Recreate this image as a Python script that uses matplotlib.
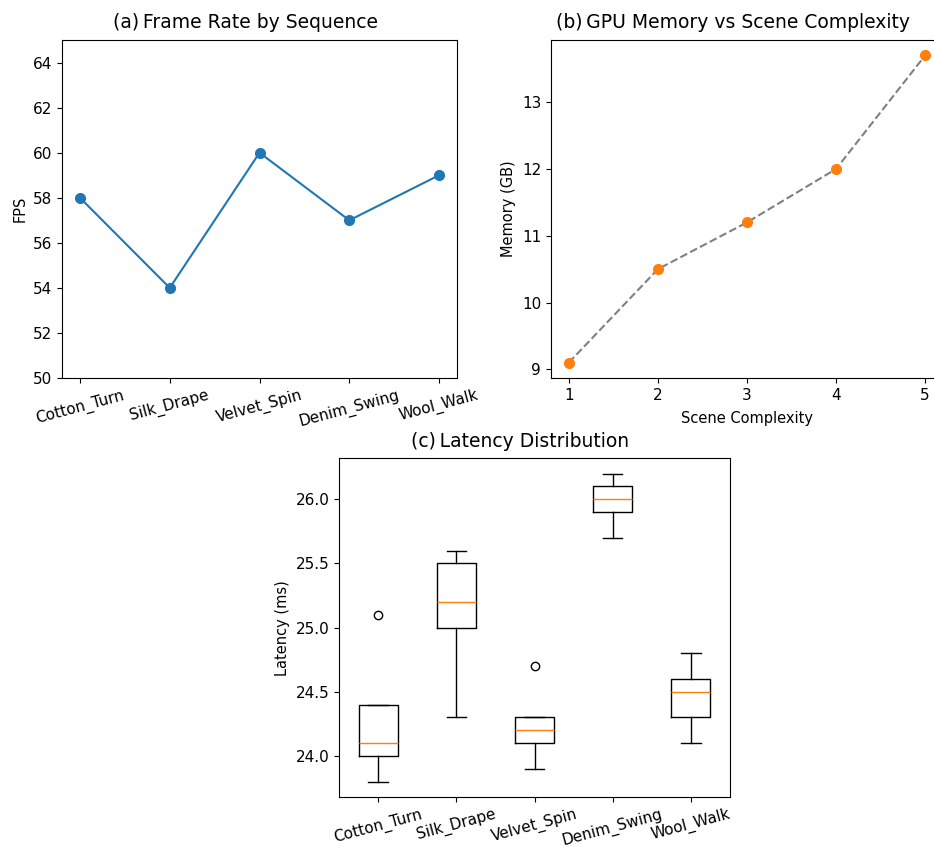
import matplotlib
matplotlib.use("Agg")
import matplotlib.pyplot as plt

plt.rcParams['font.family'] = ['DejaVu Sans']
plt.rcParams['xtick.labelsize'] = 11
plt.rcParams['ytick.labelsize'] = 11
plt.rcParams['axes.labelsize'] = 10.5
plt.rcParams['axes.titlesize'] = 13.5

sequences = ["Cotton_Turn", "Silk_Drape", "Velvet_Spin", "Denim_Swing", "Wool_Walk"]
fps = [58, 54, 60, 57, 59]

complexity = [1, 2, 3, 4, 5]
memory_gb = [9.1, 10.5, 11.2, 12.0, 13.7]

latency = [
    [23.8, 24.0, 24.1, 24.4, 25.1],
    [24.3, 25.0, 25.2, 25.5, 25.6],
    [23.9, 24.1, 24.2, 24.3, 24.7],
    [25.7, 25.9, 26.0, 26.1, 26.2],
    [24.1, 24.3, 24.5, 24.6, 24.8],
]

fig = plt.figure(figsize=(9.34, 8.47), dpi=100)
ax1 = fig.add_axes([0.0664, 0.5537, 0.4229, 0.399])
ax2 = fig.add_axes([0.5899, 0.5537, 0.4197, 0.399])
ax3 = fig.add_axes([0.363, 0.059, 0.4186, 0.400])

# (a) frame rate
ax1.plot(sequences, fps, marker='o', color='C0', markersize=7)
ax1.set_ylim(50, 65)
ax1.set_ylabel("FPS")
ax1.set_title("(a)\u2009Frame Rate by Sequence", x=0.464, pad=9)
ax1.tick_params(axis='x', rotation=15)

# (b) memory vs complexity
ax2.plot(complexity, memory_gb, linestyle='--', color='gray')
ax2.scatter(complexity, memory_gb, color='C1', s=49, zorder=3)
ax2.set_xticks(complexity)
ax2.set_xlabel("Scene Complexity", labelpad=6)
ax2.set_ylabel("Memory (GB)")
ax2.set_title("(b)\u2009GPU Memory vs Scene Complexity", x=0.464, pad=9)

# (c) latency
ax3.boxplot(latency)
ax3.set_xticks(range(1, len(sequences) + 1))
ax3.set_xticklabels(sequences, rotation=15)
ax3.set_ylabel("Latency (ms)")
ax3.set_title("(c)\u2009Latency Distribution", x=0.464, pad=8)

fig.savefig("out.png", dpi=100)
